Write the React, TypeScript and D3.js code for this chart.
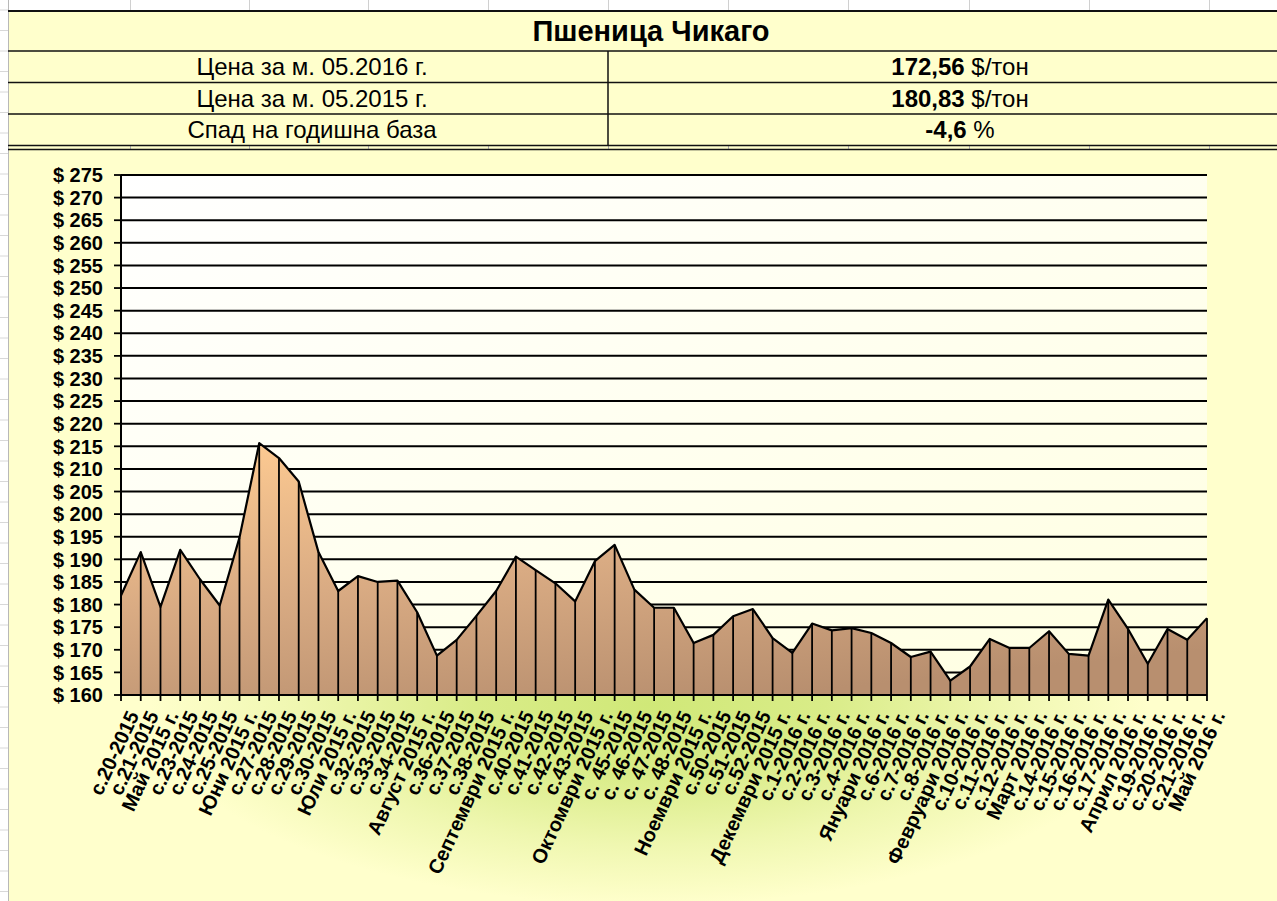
import React from 'react';
import * as d3 from 'd3';

const categories: string[] = [
  'с.20-2015', 'с.21-2015', 'Май 2015 г.', 'с.23-2015', 'с.24-2015', 'с.25-2015',
  'Юни 2015 г.', 'с.27-2015', 'с.28-2015', 'с.29-2015', 'с.30-2015', 'Юли 2015 г.',
  'с.32-2015', 'с.33-2015', 'с.34-2015', 'Август 2015 г.', 'с.36-2015', 'с.37-2015',
  'с.38-2015', 'Септември 2015 г.', 'с.40-2015', 'с.41-2015', 'с.42-2015', 'с.43-2015',
  'Октомври 2015 г.', 'с. 45-2015', 'с. 46-2015', 'с. 47-2015', 'с. 48-2015', 'Ноември 2015 г.',
  'с.50-2015', 'с.51-2015', 'с.52-2015', 'Декември 2015 г.', 'с.1-2016 г.', 'с.2-2016 г.',
  'с.3-2016 г.', 'с.4-2016 г.', 'Януари 2016 г.', 'с.6-2016 г.', 'с.7-2016 г.', 'с.8-2016 г.',
  'Февруари 2016 г.', 'с.10-2016 г.', 'с.11-2016 г.', 'с.12-2016 г.', 'Март 2016 г.', 'с.14-2016 г.',
  'с.15-2016 г.', 'с.16-2016 г.', 'с.17-2016 г.', 'Април 2016 г.', 'с.19-2016 г.', 'с.20-2016 г.',
  'с.21-2016 г.', 'Май 2016 г.',
];

const prices: number[] = [
  182.0, 191.6, 179.5, 192.1, 185.6, 179.8,
  194.8, 215.7, 212.4, 207.2, 191.6, 183.0,
  186.3, 185.0, 185.3, 178.3, 168.7, 172.2,
  177.5, 183.0, 190.6, 187.6, 184.7, 180.7,
  189.6, 193.2, 183.3, 179.3, 179.3, 171.5,
  173.3, 177.4, 179.0, 172.6, 169.3, 175.8,
  174.3, 174.8, 173.7, 171.5, 168.4, 169.6,
  163.2, 166.3, 172.4, 170.4, 170.4, 174.1,
  169.1, 168.7, 181.1, 174.6, 166.9, 174.6,
  172.2, 177.0,
];

const yTicks: number[] = [160, 165, 170, 175, 180, 185, 190, 195, 200, 205, 210, 215, 220, 225, 230, 235, 240, 245, 250, 255, 260, 265, 270, 275];

const headerTitle = 'Пшеница Чикаго';
const rowLabels: string[] = ['Цена за м. 05.2016 г.', 'Цена за м. 05.2015 г.', 'Спад на годишна база'];
const rowValues: string[] = ['172,56', '180,83', '-4,6'];
const rowUnits: string[] = [' $/тон', ' $/тон', ' %'];

export default function App() {
  const W = 1277;
  const H = 901;
  const left = 121;
  const right = 1207;
  const top = 175;
  const bottom = 695;

  const x = d3.scalePoint<string>().domain(categories).range([left, right]).padding(0);
  const y = d3.scaleLinear().domain([160, 275]).range([bottom, top]);

  const px = (i: number) => x(categories[i]) as number;
  const area = d3.area<number>().x((_, i) => px(i)).y0(y(160)).y1((d) => y(d));
  const line = d3.line<number>().x((_, i) => px(i)).y((d) => y(d));

  const font = "Arial, 'Liberation Sans', sans-serif";
  const rowTops = [51, 82.5, 114];
  const rowH = 31.5;
  const colTicks = [130, 249, 368, 488, 608, 728, 848, 969, 1089, 1209];

  return (
    <svg width={W} height={H} style={{ position: 'absolute', left: 0, top: 0 }} fontFamily={font}>
      <defs>
        <radialGradient id="glow" gradientUnits="userSpaceOnUse" cx={650} cy={705} r={500}
          gradientTransform="translate(650,705) scale(1,0.4) translate(-650,-705)">
          <stop offset="0" stopColor="#D0E878" />
          <stop offset="0.35" stopColor="#D9EC88" />
          <stop offset="0.7" stopColor="#EFF7B0" />
          <stop offset="1" stopColor="#FFFFCC" />
        </radialGradient>
        <linearGradient id="plotBg" x1="0" y1="0" x2="1" y2="1">
          <stop offset="0" stopColor="#FFFFFF" />
          <stop offset="1" stopColor="#FFFFE0" />
        </linearGradient>
        <linearGradient id="areaFill" x1="0.15" y1="0" x2="0.6" y2="1">
          <stop offset="0" stopColor="#FCC991" />
          <stop offset="0.5" stopColor="#D9AB83" />
          <stop offset="1" stopColor="#B88F6F" />
        </linearGradient>
      </defs>

      {/* page background */}
      <rect x={0} y={0} width={W} height={H} fill="#FFFFCC" />
      <rect x={0} y={150} width={W} height={H - 150} fill="url(#glow)" />

      {/* excel margins */}
      <rect x={0} y={0} width={W} height={10} fill="#FFFFFF" />
      <rect x={0} y={0} width={8} height={H} fill="#FFFFFF" />
      <line x1={8.5} y1={0} x2={8.5} y2={H} stroke="#B8B8B8" strokeWidth={1} />
      {colTicks.map((c) => (
        <line key={'ct' + c} x1={c + 0.5} y1={0} x2={c + 0.5} y2={10} stroke="#D0D0D0" strokeWidth={1} />
      ))}
      {colTicks.map((c) => (
        <line key={'cb' + c} x1={c + 0.5} y1={146} x2={c + 0.5} y2={149} stroke="#B0B0B0" strokeWidth={1} />
      ))}
      {d3.range(0, 45).map((k) => (
        <line key={'rt' + k} x1={0} y1={10 + k * 20.5} x2={8} y2={10 + k * 20.5} stroke="#D8D8D8" strokeWidth={1} />
      ))}

      {/* header table */}
      <line x1={8} y1={11} x2={W} y2={11} stroke="#111" strokeWidth={2} />
      {rowTops.map((t) => (
        <line key={'rl' + t} x1={8} y1={t} x2={W} y2={t} stroke="#111" strokeWidth={1.6} />
      ))}
      <line x1={8} y1={145.5} x2={W} y2={145.5} stroke="#111" strokeWidth={1.5} />
      <line x1={8} y1={149.5} x2={W} y2={149.5} stroke="#111" strokeWidth={1.5} />
      <line x1={608} y1={51} x2={608} y2={145.5} stroke="#111" strokeWidth={1.5} />
      <text x={651} y={41} textAnchor="middle" fontSize={29} fontWeight="bold" fill="#000">{headerTitle}</text>
      {rowLabels.map((lab, i) => (
        <text key={'lab' + i} x={312} y={rowTops[i] + rowH / 2 + 8.5} textAnchor="middle" fontSize={24} fill="#000">{lab}</text>
      ))}
      {rowValues.map((v, i) => (
        <text key={'val' + i} x={960} y={rowTops[i] + rowH / 2 + 8.5} textAnchor="middle" fontSize={24} fill="#000">
          <tspan fontWeight="bold">{v}</tspan>
          <tspan>{rowUnits[i]}</tspan>
        </text>
      ))}

      {/* plot area */}
      <rect x={left} y={top} width={right - left} height={bottom - top} fill="url(#plotBg)" />
      {yTicks.map((t) => (
        <line key={'g' + t} x1={left} y1={y(t)} x2={right} y2={y(t)} stroke="#000" strokeWidth={2} />
      ))}

      <path d={area(prices) || ''} fill="url(#areaFill)" />
      {prices.map((p, i) => (
        <line key={'d' + i} x1={px(i)} y1={y(p)} x2={px(i)} y2={bottom} stroke="#000" strokeWidth={1.8} />
      ))}
      <path d={line(prices) || ''} fill="none" stroke="#000" strokeWidth={2.2} strokeLinejoin="round" />

      {/* y axis */}
      <line x1={left} y1={top} x2={left} y2={bottom} stroke="#000" strokeWidth={2} />
      {yTicks.map((t) => (
        <g key={'yt' + t}>
          <line x1={left - 7} y1={y(t)} x2={left} y2={y(t)} stroke="#000" strokeWidth={1.8} />
          <text x={103} y={y(t)} dy="0.36em" textAnchor="end" fontSize={20} fontWeight="bold" fill="#000">
            {'$ ' + t}
          </text>
        </g>
      ))}

      {/* x axis */}
      <line x1={left} y1={bottom} x2={right} y2={bottom} stroke="#000" strokeWidth={2} />
      {categories.map((c, i) => (
        <g key={'xt' + i}>
          <line x1={px(i)} y1={bottom} x2={px(i)} y2={bottom + 6} stroke="#000" strokeWidth={1.8} />
          <text transform={`translate(${px(i) + 12},${bottom + 17}) rotate(-65)`} dy="0.36em" textAnchor="end"
            fontSize={20} fontWeight="bold" fill="#000">
            {c}
          </text>
        </g>
      ))}
    </svg>
  );
}
